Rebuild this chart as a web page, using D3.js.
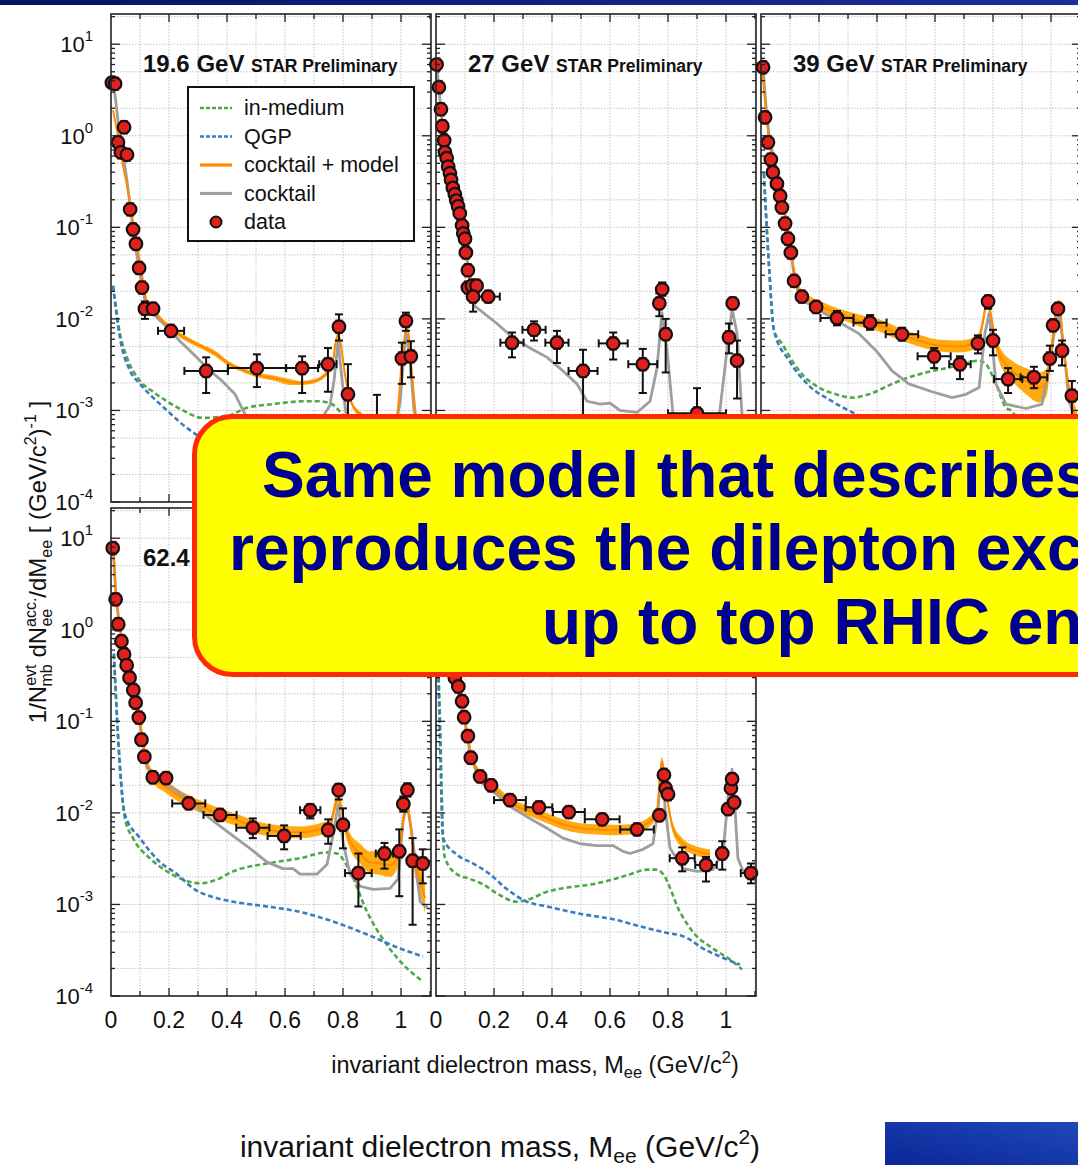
<!DOCTYPE html>
<html>
<head>
<meta charset="utf-8">
<script src="https://cdn.jsdelivr.net/npm/d3@7"></script>
<style>
body { margin: 0; background: #fff; }
</style>
</head>
<body>
<div id="chart"></div>
<script>
// ---- 19.6 GeV ----  data rows: [mass, yield, xerr, yLow, yHigh]
var data196 = [
  [0.003, 3.8, 0, 3.5, 4.2], [0.014, 3.7, 0, 3.4, 4.0], [0.024, 0.85, 0, 0.78, 0.93],
  [0.034, 0.66, 0, 0.6, 0.72], [0.045, 1.24, 0, 1.12, 1.38], [0.055, 0.62, 0, 0.56, 0.69],
  [0.066, 0.157, 0, 0.145, 0.17], [0.076, 0.095, 0, 0.088, 0.103], [0.086, 0.066, 0, 0.061, 0.072],
  [0.097, 0.036, 0, 0.033, 0.039], [0.107, 0.022, 0, 0.020, 0.024], [0.117, 0.0129, 0, 0.010, 0.0155],
  [0.145, 0.0129, 0.01, 0.0118, 0.014], [0.207, 0.0074, 0.045, 0.0064, 0.0086],
  [0.328, 0.0027, 0.075, 0.00155, 0.0038], [0.503, 0.0029, 0.1, 0.0018, 0.0041],
  [0.659, 0.0029, 0.055, 0.00155, 0.0039], [0.748, 0.0032, 0.03, 0.0016, 0.0048],
  [0.786, 0.0082, 0, 0.0058, 0.0112], [0.817, 0.0015, 0, 0.0003, 0.0032],
  [0.917, 0.0007, 0.05, 0.0002, 0.00148], [1.003, 0.0037, 0, 0.00195, 0.0055],
  [1.017, 0.0095, 0, 0.0074, 0.0117], [1.034, 0.0039, 0, 0.0023, 0.0057]
];
var cocktail196 = [[0.003,4.0],[0.014,2.77],[0.024,1.47],[0.034,0.89],[0.045,0.54],[0.055,0.325],[0.066,0.173],[0.076,0.097],[0.086,0.056],[0.097,0.036],[0.107,0.023],[0.117,0.0158],[0.134,0.0123],[0.169,0.0096],[0.203,0.0076],[0.238,0.0057],[0.272,0.0045],[0.307,0.0035],[0.341,0.0027],[0.383,0.0021],[0.428,0.0015],[0.462,0.00091],[0.514,0.00067],[0.583,0.00056],[0.652,0.0006],[0.721,0.00077],[0.755,0.00113],[0.769,0.0021],[0.783,0.0057],[0.797,0.0021],[0.81,0.00094],[0.841,0.00047],[0.893,0.00036],[0.945,0.00038],[0.979,0.0006],[0.997,0.00126],[1.017,0.0074],[1.031,0.0035],[1.045,0.001],[1.066,0.00047],[1.093,0.00032]];
var model196 = [[0.007,1.8,2.0],[0.024,0.94,1.06],[0.038,0.51,0.57],[0.055,0.27,0.31],[0.072,0.127,0.144],[0.09,0.059,0.067],[0.107,0.028,0.032],[0.121,0.0156,0.0177],[0.152,0.011,0.0125],[0.203,0.0075,0.0085],[0.255,0.0058,0.0066],[0.307,0.0048,0.0054],[0.359,0.0039,0.0045],[0.403,0.0031,0.0035],[0.445,0.0027,0.003],[0.503,0.0023,0.0026],[0.566,0.0021,0.0024],[0.617,0.0019,0.0022],[0.652,0.0019,0.0021],[0.703,0.002,0.0022],[0.738,0.0023,0.0026],[0.762,0.0029,0.0033],[0.776,0.0054,0.0061],[0.783,0.0065,0.0073],[0.793,0.0048,0.0054],[0.807,0.0023,0.0026],[0.831,0.0011,0.00125],[0.866,0.00082,0.00093],[0.91,0.00064,0.00072],[0.962,0.00064,0.00072],[0.986,0.00082,0.00093],[1.003,0.0033,0.0037],[1.021,0.0075,0.0085],[1.038,0.0023,0.0027],[1.052,0.00082,0.00093],[1.083,0.00044,0.0005]];
var inmed196 = [[0.007,0.023],[0.031,0.0069],[0.055,0.0038],[0.10,0.0021],[0.145,0.0016],[0.193,0.00126],[0.248,0.001],[0.317,0.00083],[0.40,0.00087],[0.469,0.00107],[0.555,0.00117],[0.669,0.00126],[0.714,0.00126],[0.762,0.00117],[0.797,0.00091],[0.859,0.00047],[0.962,0.00022],[1.083,0.00012]];
var qgp196 = [[0.007,0.023],[0.031,0.0062],[0.066,0.0027],[0.10,0.00195],[0.145,0.00138],[0.193,0.001],[0.255,0.00067],[0.314,0.0005],[0.48,0.00036],[0.755,0.00028],[1.083,0.00019]];

// ---- 27 GeV ----
var data27 = [
  [0.002,6.0,0,5.6,6.4],[0.01,3.4,0,3.2,3.6],[0.017,1.95,0,1.85,2.05],[0.022,1.27,0,1.2,1.34],
  [0.028,0.89,0,0.84,0.94],[0.031,0.66,0,0.62,0.7],[0.037,0.57,0,0.54,0.6],[0.042,0.46,0,0.44,0.48],
  [0.048,0.39,0,0.37,0.41],[0.052,0.33,0,0.31,0.35],[0.058,0.27,0,0.255,0.285],[0.065,0.23,0,0.22,0.24],
  [0.07,0.196,0,0.186,0.206],[0.076,0.17,0,0.16,0.18],[0.082,0.142,0,0.134,0.15],[0.09,0.105,0,0.1,0.11],
  [0.094,0.086,0,0.082,0.09],[0.10,0.075,0,0.071,0.079],[0.103,0.053,0,0.05,0.056],[0.11,0.034,0,0.032,0.036],
  [0.11,0.022,0,0.02,0.024],[0.124,0.023,0,0.021,0.025],[0.14,0.023,0,0.021,0.025],[0.128,0.0175,0,0.012,0.0243],
  [0.18,0.0175,0.04,0.016,0.019],[0.262,0.0055,0.04,0.0038,0.0071],[0.338,0.0076,0.04,0.0058,0.0094],
  [0.417,0.0055,0.04,0.0033,0.0074],[0.507,0.0027,0.05,0.0002,0.0046],[0.611,0.0054,0.05,0.0036,0.0071],
  [0.713,0.0032,0.05,0.00155,0.0047],[0.77,0.0148,0,0.0107,0.019],[0.78,0.021,0,0.018,0.025],
  [0.792,0.0068,0,0.0026,0.01],[0.90,0.00093,0.1,0.0002,0.00175],[1.01,0.0063,0,0.0042,0.0089],
  [1.023,0.0148,0,0.013,0.0168],[1.038,0.0035,0,0.00135,0.0058]
];
var cocktail27 = [[0.003,5.6],[0.014,2.44],[0.024,1.15],[0.038,0.57],[0.055,0.325],[0.072,0.196],[0.09,0.105],[0.103,0.056],[0.117,0.026],[0.134,0.0138],[0.21,0.0089],[0.266,0.0062],[0.324,0.0048],[0.383,0.0038],[0.438,0.0027],[0.486,0.00195],[0.521,0.00126],[0.566,0.00117],[0.60,0.0012],[0.634,0.001],[0.693,0.00095],[0.738,0.00126],[0.762,0.0029],[0.779,0.0117],[0.797,0.0045],[0.817,0.00092],[0.859,0.00047],[0.928,0.00042],[0.979,0.001],[1.003,0.0045],[1.021,0.0129],[1.038,0.0069],[1.055,0.00092],[1.083,0.00042]];

// ---- 39 GeV ----
var data39 = [
  [0.007,5.6,0,5.0,6.3],[0.014,1.59,0,1.45,1.75],[0.024,0.85,0,0.78,0.93],[0.034,0.55,0,0.5,0.6],
  [0.041,0.40,0,0.37,0.43],[0.055,0.30,0,0.28,0.32],[0.066,0.22,0,0.2,0.24],[0.072,0.165,0,0.15,0.18],
  [0.083,0.11,0,0.1,0.12],[0.093,0.075,0,0.069,0.081],[0.103,0.053,0,0.049,0.057],[0.114,0.026,0,0.024,0.028],
  [0.141,0.0175,0,0.016,0.019],[0.19,0.0135,0.02,0.0122,0.015],[0.262,0.0102,0.057,0.0085,0.0122],
  [0.376,0.0091,0.057,0.0076,0.011],[0.486,0.0068,0.056,0.0058,0.008],[0.597,0.0039,0.057,0.0029,0.0048],
  [0.686,0.0032,0.037,0.0022,0.0039],[0.748,0.0054,0,0.0042,0.0066],[0.783,0.0155,0,0.0129,0.0177],
  [0.80,0.0058,0,0.004,0.0076],[0.852,0.0022,0.049,0.00155,0.0029],[0.941,0.0023,0.046,0.00175,0.003],
  [0.996,0.0037,0,0.0027,0.0051],[1.007,0.0085,0,0.0075,0.0095],[1.024,0.0129,0,0.0114,0.0151],
  [1.038,0.0045,0,0.0031,0.0058],[1.072,0.00145,0,0.0004,0.0021]
];
var cocktail39 = [[0.007,5.6],[0.017,2.15],[0.028,1.0],[0.045,0.54],[0.062,0.31],[0.079,0.165],[0.097,0.076],[0.114,0.030],[0.131,0.0177],[0.166,0.0145],[0.259,0.0096],[0.338,0.0069],[0.397,0.0045],[0.452,0.0027],[0.51,0.00195],[0.59,0.0016],[0.659,0.00138],[0.707,0.0015],[0.752,0.00178],[0.772,0.0069],[0.786,0.0114],[0.797,0.0058],[0.81,0.00195],[0.845,0.00117],[0.914,0.00105],[0.969,0.00117],[0.993,0.0029],[1.017,0.0096],[1.028,0.0114],[1.045,0.0045],[1.062,0.00126],[1.086,0.00078]];
var model39 = [[0.003,5.3,6.5],[0.017,1.67,2.15],[0.028,0.79,1.01],[0.045,0.42,0.54],[0.062,0.25,0.325],[0.079,0.135,0.173],[0.097,0.063,0.081],[0.114,0.0297,0.0382],[0.131,0.018,0.0231],[0.166,0.0139,0.0179],[0.20,0.0123,0.0159],[0.269,0.0101,0.0129],[0.338,0.0083,0.0112],[0.407,0.0073,0.0099],[0.476,0.0059,0.008],[0.545,0.005,0.0067],[0.614,0.0044,0.0059],[0.683,0.0043,0.0058],[0.734,0.0046,0.0063],[0.752,0.0053,0.0071],[0.766,0.0083,0.0112],[0.779,0.0133,0.0171],[0.793,0.0094,0.0127],[0.803,0.0058,0.0082],[0.821,0.0034,0.0051],[0.866,0.0021,0.0035],[0.914,0.0015,0.0029],[0.959,0.00122,0.0026],[0.983,0.0014,0.0028],[1.0,0.0033,0.0055],[1.017,0.0098,0.014],[1.028,0.012,0.0163],[1.045,0.0035,0.0053],[1.069,0.00098,0.0016],[1.09,0.0006,0.001]];
var inmed39 = [[0.01,0.39],[0.028,0.036],[0.045,0.0074],[0.072,0.0054],[0.107,0.0035],[0.141,0.0025],[0.20,0.00178],[0.259,0.0015],[0.314,0.00138],[0.372,0.0015],[0.452,0.00195],[0.51,0.0023],[0.569,0.0026],[0.638,0.0029],[0.707,0.0033],[0.752,0.0035],[0.776,0.0032],[0.81,0.00195],[0.845,0.00107],[0.862,0.001],[0.924,0.00047],[1.09,0.00022]];
var qgp39 = [[0.01,0.39],[0.028,0.036],[0.045,0.0074],[0.097,0.0035],[0.166,0.00186],[0.245,0.00126],[0.328,0.00091],[0.476,0.0006],[0.821,0.00036],[1.09,0.00028]];

// ---- 62.4 GeV ----
var data62 = [
  [0.006,7.8,0,7.0,8.7],[0.016,2.15,0,1.95,2.4],[0.025,1.15,0,1.05,1.27],[0.036,0.75,0,0.69,0.82],
  [0.045,0.54,0,0.5,0.58],[0.054,0.41,0,0.38,0.44],[0.064,0.30,0,0.28,0.32],[0.077,0.22,0,0.2,0.24],
  [0.085,0.16,0,0.148,0.172],[0.096,0.11,0,0.1,0.12],[0.105,0.063,0,0.058,0.068],[0.115,0.041,0,0.038,0.044],
  [0.144,0.0245,0.01,0.0225,0.0265],[0.19,0.024,0.01,0.022,0.026],[0.268,0.0127,0.057,0.0112,0.0145],
  [0.376,0.0095,0.057,0.0083,0.0108],[0.489,0.0069,0.057,0.0053,0.0087],[0.597,0.0056,0.057,0.004,0.0073],
  [0.687,0.0107,0.035,0.0087,0.0123],[0.749,0.0065,0,0.0046,0.0085],[0.785,0.0178,0,0.014,0.0206],
  [0.80,0.0074,0,0.0041,0.0112],[0.853,0.0022,0.046,0.00095,0.0036],[0.943,0.0036,0.03,0.00246,0.0047],
  [0.994,0.0038,0,0.00123,0.0066],[1.008,0.0125,0,0.0103,0.0151],[1.022,0.0178,0,0.0151,0.021],
  [1.04,0.003,0,0.0006,0.0053],[1.075,0.0028,0,0.0017,0.004]
];
var cocktail62 = [[0.007,8.2],[0.017,2.32],[0.028,1.18],[0.038,0.75],[0.055,0.41],[0.076,0.21],[0.097,0.105],[0.11,0.053],[0.124,0.031],[0.193,0.0206],[0.262,0.0145],[0.341,0.0087],[0.40,0.0063],[0.479,0.0041],[0.538,0.0029],[0.593,0.00246],[0.628,0.00246],[0.652,0.00214],[0.71,0.00214],[0.745,0.00275],[0.766,0.0058],[0.783,0.0123],[0.80,0.0049],[0.824,0.00214],[0.859,0.00158],[0.903,0.00146],[0.962,0.0015],[0.99,0.0019],[1.007,0.0081],[1.021,0.0126],[1.038,0.0058],[1.066,0.00107],[1.093,0.00091]];
var model62 = [[0.007,8.4,10.3],[0.017,2.38,2.9],[0.028,1.12,1.37],[0.038,0.66,0.85],[0.048,0.45,0.58],[0.066,0.273,0.35],[0.083,0.165,0.212],[0.10,0.088,0.113],[0.114,0.047,0.06],[0.128,0.028,0.036],[0.145,0.0215,0.029],[0.186,0.0168,0.0227],[0.238,0.013,0.0176],[0.307,0.0101,0.0137],[0.376,0.0083,0.0112],[0.445,0.007,0.0094],[0.514,0.0058,0.0079],[0.583,0.0054,0.0073],[0.652,0.0053,0.0071],[0.721,0.0057,0.0077],[0.755,0.0062,0.0084],[0.772,0.0101,0.0137],[0.783,0.013,0.0176],[0.793,0.0101,0.0137],[0.807,0.0059,0.0085],[0.824,0.004,0.006],[0.859,0.0028,0.0046],[0.893,0.0022,0.0038],[0.928,0.0021,0.0038],[0.962,0.002,0.0036],[0.99,0.0026,0.0044],[1.007,0.0066,0.0099],[1.017,0.0121,0.0173],[1.031,0.0066,0.0099],[1.048,0.0021,0.0039],[1.066,0.00128,0.0025],[1.083,0.00081,0.0017]];
var inmed62 = [[0.01,0.54],[0.024,0.072],[0.048,0.0087],[0.076,0.0053],[0.134,0.0032],[0.193,0.0023],[0.248,0.00187],[0.307,0.0017],[0.366,0.00187],[0.421,0.0023],[0.538,0.0028],[0.652,0.0032],[0.745,0.0037],[0.779,0.0036],[0.824,0.0023],[0.883,0.00083],[0.952,0.00036],[1.021,0.0002],[1.076,0.000144]];
var qgp62 = [[0.01,0.55],[0.031,0.031],[0.048,0.0096],[0.10,0.0053],[0.169,0.0029],[0.228,0.00214],[0.283,0.0015],[0.366,0.00117],[0.421,0.00107],[0.538,0.00095],[0.652,0.00083],[0.766,0.00065],[0.883,0.00047],[0.997,0.00033],[1.076,0.00027]];

// ---- 200 GeV ----
var data200 = [
  [0.005,9.0,0,8.2,9.9],[0.015,2.2,0,2.0,2.4],[0.025,1.2,0,1.1,1.3],[0.035,0.75,0,0.7,0.8],
  [0.045,0.52,0,0.48,0.56],[0.055,0.40,0,0.37,0.43],[0.065,0.30,0,0.28,0.32],[0.077,0.24,0,0.22,0.26],
  [0.09,0.166,0,0.155,0.178],[0.097,0.111,0,0.104,0.118],[0.11,0.069,0,0.065,0.073],[0.12,0.040,0,0.037,0.043],
  [0.152,0.025,0.01,0.023,0.027],[0.19,0.020,0,0.0185,0.0215],[0.255,0.0138,0.055,0.0128,0.0148],
  [0.355,0.0115,0.046,0.0107,0.0123],[0.458,0.0102,0.055,0.0095,0.011],[0.573,0.0085,0.06,0.0079,0.0092],
  [0.693,0.0066,0.058,0.006,0.0073],[0.77,0.0094,0,0.0082,0.011],[0.786,0.026,0,0.024,0.028],
  [0.792,0.0186,0,0.017,0.0202],[0.80,0.016,0,0.0145,0.0175],[0.849,0.0032,0.043,0.0023,0.0042],
  [0.931,0.0027,0.037,0.00178,0.0033],[0.987,0.0036,0,0.0024,0.0049],[1.007,0.011,0,0.0102,0.0118],
  [1.017,0.0186,0,0.0175,0.0198],[1.021,0.0234,0,0.022,0.025],[1.028,0.013,0,0.0121,0.014],
  [1.086,0.0022,0.035,0.0017,0.0028]
];
var cocktail200 = [[0.003,9.0],[0.014,2.05],[0.031,0.75],[0.048,0.40],[0.066,0.27],[0.083,0.166],[0.10,0.1],[0.117,0.045],[0.152,0.022],[0.21,0.0158],[0.266,0.0112],[0.324,0.0087],[0.383,0.0068],[0.438,0.0053],[0.497,0.0046],[0.555,0.0044],[0.61,0.0044],[0.645,0.0038],[0.669,0.0036],[0.714,0.004],[0.748,0.0046],[0.766,0.0112],[0.779,0.036],[0.79,0.0112],[0.807,0.0041],[0.852,0.00246],[0.90,0.0023],[0.955,0.0024],[0.99,0.0038],[1.007,0.0145],[1.021,0.030],[1.031,0.0112],[1.041,0.0032],[1.059,0.0023],[1.107,0.00178]];
var model200 = [[0.003,8.6,11],[0.014,1.9,2.44],[0.031,0.66,0.85],[0.048,0.40,0.51],[0.072,0.29,0.37],[0.093,0.123,0.158],[0.11,0.057,0.074],[0.128,0.032,0.041],[0.162,0.021,0.027],[0.21,0.0152,0.0195],[0.266,0.0108,0.0139],[0.324,0.0092,0.0118],[0.383,0.0077,0.0099],[0.438,0.0066,0.0085],[0.497,0.006,0.0077],[0.555,0.0058,0.0075],[0.61,0.0057,0.0074],[0.669,0.0058,0.0075],[0.728,0.0068,0.0087],[0.762,0.0092,0.0118],[0.772,0.022,0.028],[0.779,0.032,0.041],[0.797,0.0128,0.0164],[0.817,0.006,0.0077],[0.852,0.0041,0.0052],[0.90,0.0034,0.0043],[0.945,0.0031,0.004]];
var inmed200 = [[0.003,1.24],[0.014,0.1],[0.024,0.0058],[0.031,0.0032],[0.072,0.00214],[0.117,0.0019],[0.162,0.00166],[0.21,0.00132],[0.279,0.00107],[0.324,0.00115],[0.383,0.00138],[0.438,0.0015],[0.555,0.0017],[0.61,0.00187],[0.669,0.00214],[0.728,0.0024],[0.762,0.0024],[0.783,0.00214],[0.841,0.00083],[0.886,0.0005],[0.955,0.00033],[1.014,0.00025],[1.055,0.000195]];
var qgp200 = [[0.003,1.5],[0.014,0.06],[0.024,0.0053],[0.072,0.0035],[0.128,0.0028],[0.186,0.00214],[0.241,0.0015],[0.314,0.00107],[0.383,0.00095],[0.497,0.00079],[0.61,0.00069],[0.728,0.00055],[0.783,0.0005],[0.866,0.00043],[0.921,0.00033],[0.979,0.00027],[1.048,0.00022]];

var yTickExp = [1, 0, -1, -2, -3, -4];
var xTickLabels = ["0", "0.2", "0.4", "0.6", "0.8", "1"];
var legendItems = ["in-medium", "QGP", "cocktail + model", "cocktail", "data"];
var calloutLines = ["Same model that describes", "reproduces the dilepton excess", "up to top RHIC energy"];

var panels = [
  { energy: "19.6 GeV", data: data196, cocktail: cocktail196, model: model196, inmed: inmed196, qgp: qgp196, x0: 111, y0: 14, yLabels: true, xLabels: false },
  { energy: "27 GeV", data: data27, cocktail: cocktail27, model: null, inmed: null, qgp: null, x0: 436, y0: 14, yLabels: false, xLabels: false },
  { energy: "39 GeV", data: data39, cocktail: cocktail39, model: model39, inmed: inmed39, qgp: qgp39, x0: 761, y0: 14, yLabels: false, xLabels: false },
  { energy: "62.4 GeV", data: data62, cocktail: cocktail62, model: model62, inmed: inmed62, qgp: qgp62, x0: 111, y0: 508, yLabels: true, xLabels: true },
  { energy: "200 GeV", data: data200, cocktail: cocktail200, model: model200, inmed: inmed200, qgp: qgp200, x0: 436, y0: 508, yLabels: false, xLabels: true }
];

var width = 1078, height = 1165;
var panelW = 320, panelH = 488;
var font = "'Liberation Sans', Arial, Helvetica, sans-serif";

var colGreen = "#4fa846", colBlue = "#3a7cbf", colOrange = "#ff8a00", colBand = "#ffaa10", colGray = "#9e9e9e";

var svg = d3.select("#chart").append("svg")
    .attr("width", width)
    .attr("height", height)
    .style("font-family", font);

var defs = svg.append("defs");
var topGrad = defs.append("linearGradient").attr("id", "topbar");
topGrad.append("stop").attr("offset", "0%").attr("stop-color", "#061264");
topGrad.append("stop").attr("offset", "100%").attr("stop-color", "#1b2f98");
var cornerGrad = defs.append("linearGradient").attr("id", "corner")
    .attr("x1", "0%").attr("y1", "100%").attr("x2", "100%").attr("y2", "0%");
cornerGrad.append("stop").attr("offset", "0%").attr("stop-color", "#0a2796");
cornerGrad.append("stop").attr("offset", "100%").attr("stop-color", "#2048b8");
defs.append("clipPath").attr("id", "panelClip")
    .append("rect").attr("width", panelW).attr("height", panelH);

svg.append("rect").attr("x", 0).attr("y", 0).attr("width", width).attr("height", 5).attr("fill", "url(#topbar)");
svg.append("rect").attr("x", 885).attr("y", 1122).attr("width", 193).attr("height", 43).attr("fill", "url(#corner)");

var x = d3.scaleLinear().domain([0, 1.1034]).range([0, panelW]);
var y = d3.scaleLog().domain([1e-4, Math.pow(10, 1.33)]).range([panelH, 0]);

var line = d3.line().x(function (d) { return x(d[0]); }).y(function (d) { return y(d[1]); });
var smooth = d3.line().curve(d3.curveMonotoneX).x(function (d) { return x(d[0]); }).y(function (d) { return y(d[1]); });
var band = d3.area().curve(d3.curveMonotoneX)
    .x(function (d) { return x(d[0]); })
    .y0(function (d) { return y(d[1]); })
    .y1(function (d) { return y(d[2]); });
var bandMid = d3.line().curve(d3.curveMonotoneX)
    .x(function (d) { return x(d[0]); })
    .y(function (d) { return y(Math.sqrt(d[1] * d[2])); });

// grid values: 1,2,5 per decade
var yGrid = [];
for (var e = -4; e <= 1; e++) {
    [1, 2, 5].forEach(function (k) { yGrid.push(k * Math.pow(10, e)); });
}
var yMinor = [];
for (var e2 = -4; e2 <= 1; e2++) {
    for (var k = 2; k <= 9; k++) {
        var v = k * Math.pow(10, e2);
        if (v < y.domain()[1]) yMinor.push(v);
    }
}
var xGrid = d3.range(1, 12).map(function (i) { return i / 10; });

panels.forEach(function (p) {
    var g = svg.append("g").attr("transform", "translate(" + p.x0 + "," + p.y0 + ")");
    var inner = g.append("g").attr("clip-path", "url(#panelClip)");

    inner.selectAll(".hg").data(yGrid).enter().append("line")
        .attr("x1", 0).attr("x2", panelW)
        .attr("y1", function (d) { return y(d); }).attr("y2", function (d) { return y(d); })
        .attr("stroke", "#c4c4c4").attr("stroke-width", 1).attr("stroke-dasharray", "1.5,1.5");
    inner.selectAll(".vg").data(xGrid).enter().append("line")
        .attr("y1", 0).attr("y2", panelH)
        .attr("x1", function (d) { return x(d); }).attr("x2", function (d) { return x(d); })
        .attr("stroke", "#c4c4c4").attr("stroke-width", 1).attr("stroke-dasharray", "1.5,1.5");

    if (p.model) {
        inner.append("path").datum(p.model).attr("d", band).attr("fill", colBand).attr("stroke", "none");
    }
    if (p.inmed) {
        inner.append("path").datum(p.inmed).attr("d", smooth).attr("fill", "none")
            .attr("stroke", colGreen).attr("stroke-width", 2.6).attr("stroke-dasharray", "5,3");
    }
    if (p.qgp) {
        inner.append("path").datum(p.qgp).attr("d", smooth).attr("fill", "none")
            .attr("stroke", colBlue).attr("stroke-width", 2.6).attr("stroke-dasharray", "5,3");
    }
    inner.append("path").datum(p.cocktail).attr("d", line).attr("fill", "none")
        .attr("stroke", colGray).attr("stroke-width", 2.8).attr("stroke-linejoin", "round");
    if (p.model) {
        inner.append("path").datum(p.model).attr("d", bandMid).attr("fill", "none")
            .attr("stroke", colOrange).attr("stroke-width", 2);
    }

    // systematic boxes
    inner.selectAll(".sys").data(p.data).enter().append("rect")
        .attr("x", function (d) { return x(d[0]) - 4; })
        .attr("y", function (d) { return y(d[1] * 1.2); })
        .attr("width", 8)
        .attr("height", function (d) { return y(d[1] / 1.2) - y(d[1] * 1.2); })
        .attr("fill", "#e8292b");

    // error bars
    var eb = inner.append("g").attr("stroke", "#111").attr("stroke-width", 2).attr("fill", "none");
    p.data.forEach(function (d) {
        var cx = x(d[0]), cy = y(d[1]);
        if (d[2] > 0) {
            var xa = x(d[0] - d[2]), xb = x(d[0] + d[2]);
            eb.append("line").attr("x1", xa).attr("x2", xb).attr("y1", cy).attr("y2", cy);
            eb.append("line").attr("x1", xa).attr("x2", xa).attr("y1", cy - 4).attr("y2", cy + 4);
            eb.append("line").attr("x1", xb).attr("x2", xb).attr("y1", cy - 4).attr("y2", cy + 4);
        }
        if (y(d[3]) - y(d[4]) > 12) {
            var ya = y(d[3]), yb = y(d[4]);
            eb.append("line").attr("x1", cx).attr("x2", cx).attr("y1", ya).attr("y2", yb);
            eb.append("line").attr("x1", cx - 4).attr("x2", cx + 4).attr("y1", ya).attr("y2", ya);
            eb.append("line").attr("x1", cx - 4).attr("x2", cx + 4).attr("y1", yb).attr("y2", yb);
        }
    });

    g.selectAll(".pt").data(p.data).enter().append("circle")
        .attr("cx", function (d) { return x(d[0]); })
        .attr("cy", function (d) { return y(d[1]); })
        .attr("r", 6.3)
        .attr("fill", "#e0201c")
        .attr("stroke", "#111")
        .attr("stroke-width", 2.2);

    // frame
    g.append("rect").attr("width", panelW).attr("height", panelH)
        .attr("fill", "none").attr("stroke", "#222").attr("stroke-width", 1.6);

    // ticks
    var tk = g.append("g").attr("stroke", "#222").attr("stroke-width", 1.3);
    yMinor.forEach(function (v) {
        var yy = y(v), len = 4;
        tk.append("line").attr("x1", 0).attr("x2", len).attr("y1", yy).attr("y2", yy);
        tk.append("line").attr("x1", panelW).attr("x2", panelW - len).attr("y1", yy).attr("y2", yy);
    });
    yTickExp.forEach(function (ex) {
        var yy = y(Math.pow(10, ex));
        tk.append("line").attr("x1", 0).attr("x2", 9).attr("y1", yy).attr("y2", yy);
        tk.append("line").attr("x1", panelW).attr("x2", panelW - 9).attr("y1", yy).attr("y2", yy);
    });
    xGrid.forEach(function (v, i) {
        var xx = x(v), len = (i % 2 === 1) ? 8 : 5;
        tk.append("line").attr("x1", xx).attr("x2", xx).attr("y1", 0).attr("y2", len);
        tk.append("line").attr("x1", xx).attr("x2", xx).attr("y1", panelH).attr("y2", panelH - len);
    });

    // title
    var t = g.append("text").attr("x", 32).attr("y", 58).attr("font-weight", "bold").attr("fill", "#111");
    t.append("tspan").attr("font-size", 24).text(p.energy + " ");
    t.append("tspan").attr("font-size", 17.5).text("STAR Preliminary");

    if (p.yLabels) {
        yTickExp.forEach(function (ex) {
            var lt = g.append("text").attr("x", -18).attr("y", y(Math.pow(10, ex)) + 8)
                .attr("text-anchor", "end").attr("font-size", 22).attr("fill", "#111");
            lt.append("tspan").text("10");
            lt.append("tspan").attr("font-size", 15).attr("dy", -11).text(ex);
        });
    }
    if (p.xLabels) {
        xTickLabels.forEach(function (lab) {
            g.append("text").attr("x", x(+lab)).attr("y", panelH + 32)
                .attr("text-anchor", "middle").attr("font-size", 23).attr("fill", "#111").text(lab);
        });
    }
});

// legend in the 19.6 GeV panel
var lg = svg.append("g").attr("transform", "translate(188,87)");
lg.append("rect").attr("width", 226).attr("height", 154).attr("fill", "#fff").attr("stroke", "#111").attr("stroke-width", 2);
var legendStyle = [
    { stroke: colGreen, dash: "4,2", w: 2.6 },
    { stroke: colBlue, dash: "4,2", w: 2.6 },
    { stroke: colOrange, dash: null, w: 3.2 },
    { stroke: colGray, dash: null, w: 3.2 },
    null
];
legendItems.forEach(function (name, i) {
    var ly = 21 + i * 28.5;
    var s = legendStyle[i];
    if (s) {
        lg.append("line").attr("x1", 12).attr("x2", 44).attr("y1", ly).attr("y2", ly)
            .attr("stroke", s.stroke).attr("stroke-width", s.w).attr("stroke-dasharray", s.dash);
    } else {
        lg.append("circle").attr("cx", 28).attr("cy", ly).attr("r", 5.5)
            .attr("fill", "#e0201c").attr("stroke", "#111").attr("stroke-width", 2);
    }
    lg.append("text").attr("x", 56).attr("y", ly + 7).attr("font-size", 21.5).attr("fill", "#111").text(name);
});

// y axis title
var yt = svg.append("text").attr("transform", "translate(46,562) rotate(-90)")
    .attr("text-anchor", "middle").attr("font-size", 24).attr("fill", "#111");
yt.append("tspan").text("1/N");
yt.append("tspan").attr("font-size", 16).attr("dy", -10).text("evt");
yt.append("tspan").attr("font-size", 16).attr("dx", -22).attr("dy", 16).text("mb");
yt.append("tspan").attr("dy", -6).text(" dN");
yt.append("tspan").attr("font-size", 16).attr("dy", -10).text("acc.");
yt.append("tspan").attr("font-size", 16).attr("dx", -29).attr("dy", 16).text("ee");
yt.append("tspan").attr("dx", 11).attr("dy", -6).text("/dM");
yt.append("tspan").attr("font-size", 16).attr("dy", 6).text("ee");
yt.append("tspan").attr("dy", -6).text(" [ (GeV/c");
yt.append("tspan").attr("font-size", 16).attr("dy", -10).text("2");
yt.append("tspan").attr("dy", 10).text(")");
yt.append("tspan").attr("font-size", 16).attr("dy", -10).text("-1");
yt.append("tspan").attr("dy", 10).text(" ]");

// x axis titles
function massTitle(cx, cy, size) {
    var t = svg.append("text").attr("x", cx).attr("y", cy).attr("text-anchor", "middle")
        .attr("font-size", size).attr("fill", "#111");
    t.append("tspan").text("invariant dielectron mass, M");
    t.append("tspan").attr("font-size", size * 0.7).attr("dy", size * 0.2).text("ee");
    t.append("tspan").attr("dy", -size * 0.2).text(" (GeV/c");
    t.append("tspan").attr("font-size", size * 0.7).attr("dy", -size * 0.42).text("2");
    t.append("tspan").attr("dy", size * 0.42).text(")");
}
massTitle(535, 1073, 23.5);
massTitle(500, 1157, 30);

// callout
svg.append("rect").attr("x", 194.5).attr("y", 416.5).attr("width", 950).attr("height", 258).attr("rx", 38)
    .attr("fill", "#ffff00").attr("stroke", "#ff2a00").attr("stroke-width", 5);
var calloutPos = [[262, 497], [229, 570], [542, 644]];
calloutLines.forEach(function (txt, i) {
    svg.append("text").attr("x", calloutPos[i][0]).attr("y", calloutPos[i][1])
        .attr("font-size", 64).attr("font-weight", "bold").attr("fill", "#000090").text(txt);
});
</script>
</body>
</html>
